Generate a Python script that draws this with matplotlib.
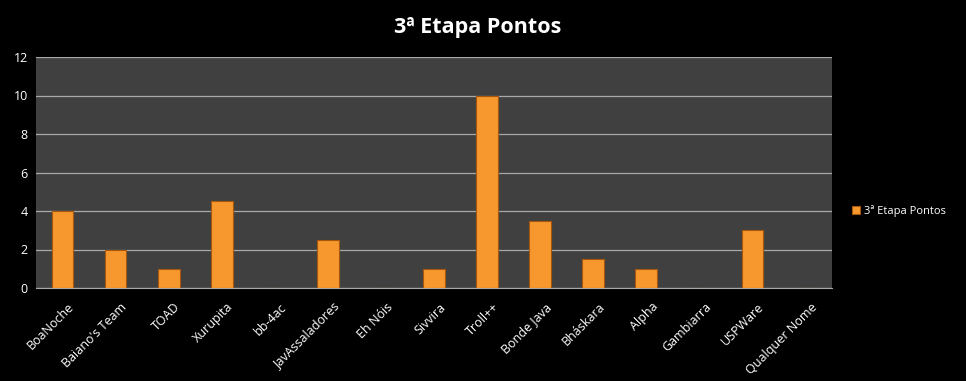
import matplotlib
matplotlib.use("Agg")
import matplotlib.pyplot as plt
import numpy as np
from matplotlib.transforms import ScaledTranslation

categories = ["BoaNoche", "Baiano's Team", "TOAD", "Xurupita", "bb-4ac", "JavAssaladores",
              "Eh Nóis", "Sivvira", "Troll++", "Bonde Java", "Bháskara", "Alpha",
              "Gambiarra", "USPWare", "Qualquer Nome"]
values = [4, 2, 1, 4.5, 0, 2.5, 0, 1, 10, 3.5, 1.5, 1, 0, 3, 0]
series_name = "3ª Etapa Pontos"
yticks = [0, 2, 4, 6, 8, 10, 12]

plt.rcParams['font.family'] = ['Open Sans', 'DejaVu Sans']

fig = plt.figure(figsize=(9.66, 3.81), dpi=100, facecolor='black')
ax = fig.add_axes([36/966, 1-288/381, (832-36)/966, (288-57)/381])
ax.set_facecolor('#404040')

x = np.arange(len(categories))
bars = ax.bar(x, values, width=0.41, color='#f7982e', edgecolor='#a8560c', linewidth=0.8,
              label=series_name, zorder=3)

ax.set_xlim(-0.5, len(categories) - 0.5)
ax.set_ylim(0, 12)
ax.set_yticks(yticks)
ax.set_yticklabels([str(t) for t in yticks], color='white', fontsize=9)
ax.yaxis.grid(True, color='#a8a8a8', linewidth=0.9, zorder=0)
ax.set_xticks(x)
ax.set_xticklabels(categories, rotation=45, ha='right', rotation_mode='anchor',
                   color='white', fontsize=9)
ax.tick_params(axis='both', length=0, pad=6)
ax.tick_params(axis='x', pad=9)
offset = ScaledTranslation(5/100, 0, fig.dpi_scale_trans)
for lbl in ax.get_xticklabels():
    lbl.set_transform(lbl.get_transform() + offset)
for s in ['top', 'right', 'left']:
    ax.spines[s].set_visible(False)
ax.spines['bottom'].set_color('#a8a8a8')

fig.text(478/966, 1-27/381, series_name, ha='center', va='center', color='white',
         fontsize=15.5, fontweight='bold')

leg = fig.legend(handles=[bars], labels=[series_name], loc='center left',
                 bbox_to_anchor=(842/966, 1-211/381), frameon=False, fontsize=8,
                 handlelength=0.7, handleheight=0.7, handletextpad=0.4)
for t in leg.get_texts():
    t.set_color('white')

fig.savefig('out.png', dpi=100, facecolor='black')
